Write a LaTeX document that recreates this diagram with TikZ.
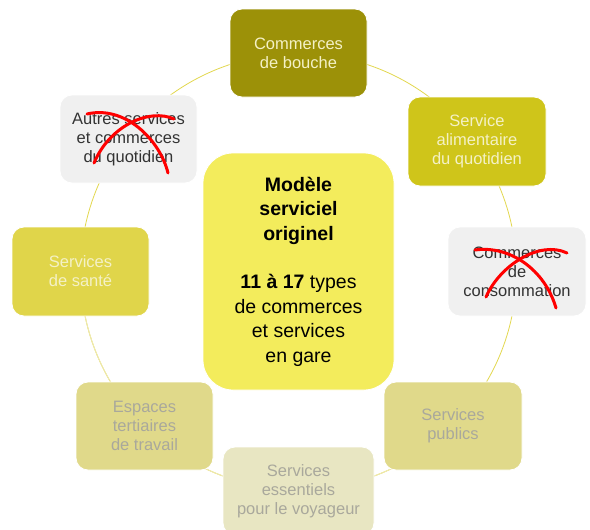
\documentclass[tikz,border=0pt]{standalone}
\usepackage{fontspec}
\setmainfont{Liberation Sans}
\definecolor{cbouche}{HTML}{9C9108}
\definecolor{calim}{HTML}{CFC51A}
\definecolor{csante}{HTML}{E0D54A}
\definecolor{ccenter}{HTML}{F3EC5C}
\definecolor{cgrey}{HTML}{F0F0F0}
\definecolor{cpale}{HTML}{E0D98A}
\definecolor{cpaler}{HTML}{E8E6C2}
\definecolor{tlight}{HTML}{F4F1C6}
\definecolor{tdark}{HTML}{333333}
\definecolor{tgrey}{HTML}{A9A89C}
\definecolor{cring}{HTML}{E2D74E}
\definecolor{cringpale}{HTML}{EEE9B0}
\tikzset{
  box/.style={rounded corners=12pt, minimum width=137pt, minimum height=88pt,
    inner sep=0pt, align=center, draw=white, line width=0.8pt,
    font=\fontsize{16.5}{19}\selectfont},
  crossline/.style={draw=red, line width=3pt, line cap=round},
}
\begin{document}
\begin{tikzpicture}[x=1pt,y=-1pt]
\useasboundingbox (0,0) rectangle (590,530);
\clip (0,0) rectangle (590,530);
\coordinate (ring) at (298.5,271.5);
\draw[cring, line width=0.8pt] (ring) circle[radius=218];
\draw[cringpale, line width=0.9pt] (ring) ++(30:218) arc[start angle=30, end angle=150, radius=218];
\draw[cringpale, line width=0.9pt] (ring) ++(150:218) arc[start angle=150, end angle=190, radius=218];

\node[box, fill=cbouche, text=tlight] (bouche) at (298.5,53) {Commerces\\de bouche};
\node[box, fill=calim, text=tlight, minimum width=138pt, minimum height=89pt] (alim) at (477,141.5) {Service\\alimentaire\\du quotidien};
\node[box, fill=cgrey, text=tdark] (autres) at (128.5,139) {Autres services\\et commerces\\du quotidien};
\node[box, fill=csante, text=tlight, minimum height=89pt] (sante) at (80.5,271.5) {Services\\de santé};
\node[box, fill=cgrey, text=tdark, minimum width=138pt, minimum height=89pt] (conso) at (517,271.5) {Commerces\\de\\consommation};
\node[box, fill=cpale, text=tgrey] (espaces) at (144.5,426) {Espaces\\tertiaires\\de travail};
\node[box, fill=cpale, text=tgrey, minimum width=138pt] (publics) at (453,426) {Services\\publics};
\node[box, fill=cpaler, text=tgrey, minimum width=151pt] (essentiels) at (298.5,491) {Services\\essentiels\\pour le voyageur};
\node[box, fill=ccenter, text=black, rounded corners=30pt, minimum width=191pt, minimum height=237pt,
  font=\fontsize{19.5}{24.5}\selectfont] (center) at (298.5,271.5)
  {\textbf{Modèle}\\\textbf{serviciel}\\\textbf{originel}\\[24pt]\textbf{11 à 17} types\\de commerces\\et services\\en gare};

\draw[crossline] (87,114) .. controls (125,105) and (160,140) .. (168,173);
\draw[crossline] (94,163) .. controls (110,125) and (150,108) .. (174,119);
\draw[crossline] (475,250) .. controls (510,245) and (545,270) .. (556,308);
\draw[crossline] (486,297) .. controls (500,265) and (540,240) .. (567,253);
\end{tikzpicture}
\end{document}
